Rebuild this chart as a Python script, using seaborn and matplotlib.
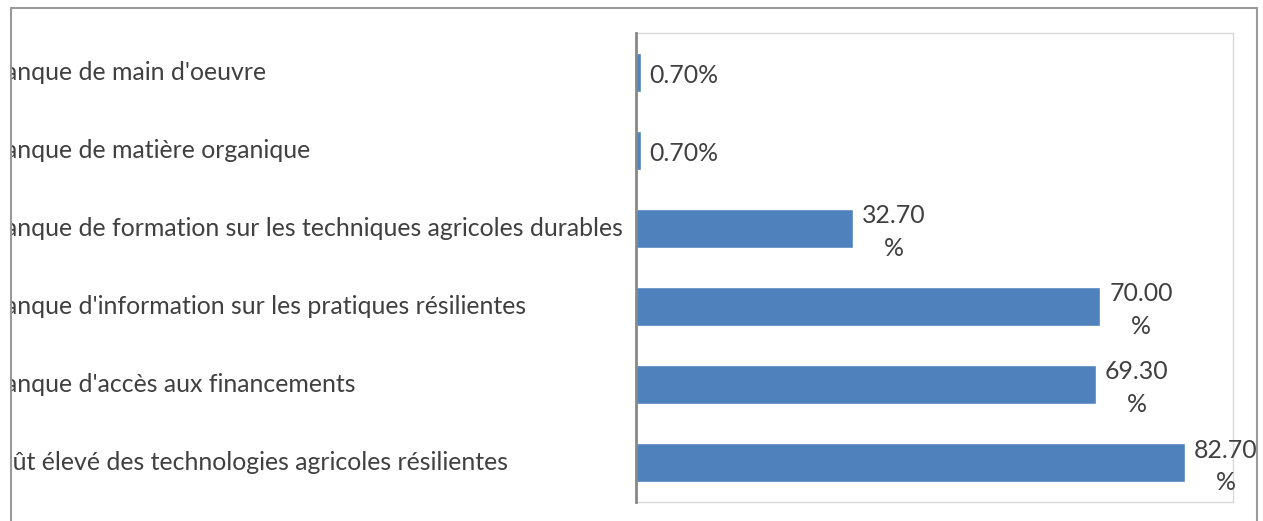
import matplotlib
matplotlib.use("Agg")
import matplotlib.pyplot as plt
import matplotlib.transforms as mtransforms
from matplotlib.patches import Rectangle
from matplotlib.lines import Line2D
import seaborn as sns
import pandas as pd

categories = [
    "Manque de main d'oeuvre",
    "Manque de matière organique",
    "Manque de formation sur les techniques agricoles durables",
    "Manque d'information sur les pratiques résilientes",
    "Manque d'accès aux financements",
    "Coût élevé des technologies agricoles résilientes",
]
values = [0.70, 0.70, 32.70, 70.00, 69.30, 82.70]

sns.set_theme(style="white")
plt.rcParams['font.family'] = ['Lato', 'DejaVu Sans']

W, H = 1263, 521
fig = plt.figure(figsize=(W / 100, H / 100), dpi=100)
ax = fig.add_axes([636 / W, 1 - 502 / H, (1233 - 636) / W, (502 - 33) / H])

df = pd.DataFrame({"cat": categories, "val": values})
sns.barplot(data=df, x="val", y="cat", orient="h", color="#4F81BD",
            saturation=1, width=0.5, ax=ax)

ax.set_xlim(0, 90)
ax.set_xlabel("")
ax.set_ylabel("")
ax.set_xticks([])
ax.set_yticks(range(len(categories)))
ax.set_yticklabels([])
ax.tick_params(left=False, bottom=False)

for s in ["top", "right", "bottom"]:
    ax.spines[s].set_visible(True)
    ax.spines[s].set_color("#D9D9D9")
    ax.spines[s].set_linewidth(1.0)
ax.spines["left"].set_color("#878787")
ax.spines["left"].set_linewidth(2.0)
ax.spines["left"].set_zorder(5)

txtcol = "#404040"
fs = 17.9

# data labels
for i, v in enumerate(values):
    lab = f"{v:.2f}%" if v < 10 else f"{v:.2f}\n%"
    ax.annotate(lab, xy=(v, i), xytext=(6.5, -2.5), textcoords="offset points",
                ha="left", va="center", multialignment="center",
                fontsize=fs, color=txtcol, linespacing=1.5)

# category labels, left aligned (clipped at the left border)
trans = mtransforms.blended_transform_factory(fig.transFigure, ax.transData)
for i, c in enumerate(categories):
    fig.text(-18 / W, i, c, transform=trans, ha="left", va="center",
             fontsize=fs, color=txtcol)

# white mask + outer border
fig.patches.append(Rectangle((0, 0), 11 / W, 1, transform=fig.transFigure,
                             facecolor="white", edgecolor="none", zorder=20))
fig.patches.append(Rectangle((0, 1 - 8 / H), 1, 8 / H, transform=fig.transFigure,
                             facecolor="white", edgecolor="none", zorder=20))
fig.patches.append(Rectangle((1257 / W, 0), 6 / W, 1, transform=fig.transFigure,
                             facecolor="white", edgecolor="none", zorder=20))
bc = "#9A9A9A"
fig.lines.append(Line2D([11 / W, 11 / W], [0, 1 - 8 / H], transform=fig.transFigure,
                        color=bc, lw=1.5, zorder=21))
fig.lines.append(Line2D([11 / W, 1257 / W], [1 - 8 / H, 1 - 8 / H], transform=fig.transFigure,
                        color=bc, lw=1.5, zorder=21))
fig.lines.append(Line2D([1257 / W, 1257 / W], [0, 1 - 8 / H], transform=fig.transFigure,
                        color=bc, lw=1.5, zorder=21))

fig.savefig("out.png", dpi=100, facecolor="white")
